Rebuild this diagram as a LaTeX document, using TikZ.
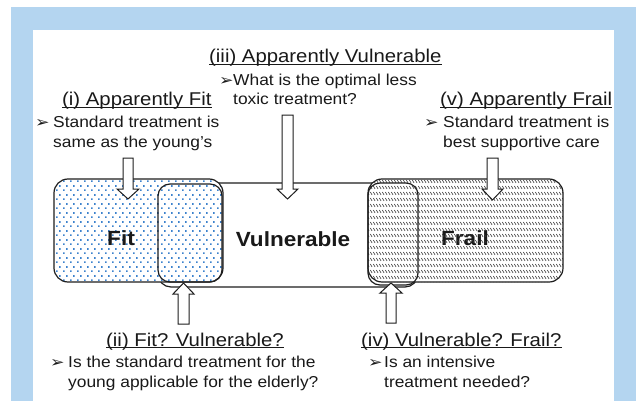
\documentclass[tikz,border=0pt]{standalone}
\usepackage{fontspec}
\setmainfont{Liberation Sans}[FakeStretch=1.1]
\newfontfamily\symfont{DejaVu Sans}[FakeStretch=1.15]
\usetikzlibrary{patterns}
\definecolor{frameblue}{RGB}{180,213,240}
\definecolor{dotblue}{RGB}{60,130,205}
\definecolor{hatchgray}{RGB}{55,55,55}
\definecolor{linegray}{RGB}{30,30,30}
\definecolor{textgray}{RGB}{25,25,25}

\pgfdeclarepatternformonly{bluedots}{\pgfqpoint{0pt}{0pt}}{\pgfqpoint{7pt}{8.6pt}}{\pgfqpoint{7pt}{8.6pt}}{%
  \pgfpathrectangle{\pgfqpoint{0pt}{0pt}}{\pgfqpoint{1.8pt}{1.8pt}}%
  \pgfpathrectangle{\pgfqpoint{3.5pt}{4.3pt}}{\pgfqpoint{1.8pt}{1.8pt}}%
  \pgfusepath{fill}}

\pgfdeclarepatternformonly{hatchrows}{\pgfqpoint{0pt}{0pt}}{\pgfqpoint{3.4pt}{5.5pt}}{\pgfqpoint{3.4pt}{5.5pt}}{%
  \pgfsetlinewidth{0.7pt}%
  \pgfpathmoveto{\pgfqpoint{0.4pt}{4.3pt}}%
  \pgfpathlineto{\pgfqpoint{2.4pt}{1.2pt}}%
  \pgfusepath{stroke}}

\begin{document}
\begin{tikzpicture}[x=1pt,y=-1pt,
  box/.style={draw=linegray, line width=1.2pt},
  blockarrow/.style={draw=linegray, fill=white, line width=1pt, line join=miter},
  title/.style={anchor=base west, inner sep=0pt, text=textgray, font=\fontsize{18.5}{20}\selectfont},
  body/.style={anchor=base west, inner sep=0pt, text=textgray, font=\fontsize{15.8}{20}\selectfont},
  bulletmark/.style={anchor=base west, inner sep=0pt, text=textgray, font=\symfont\fontsize{15}{17}\selectfont},
  biglabel/.style={anchor=base, inner sep=0pt, text=textgray, font=\bfseries\fontsize{20.5}{22}\selectfont},
  ul/.style={draw=textgray, line width=1pt}
]
\useasboundingbox (0,0) rectangle (636,401);
% frame
\fill[white] (0,0) rectangle (636,401);
\fill[frameblue] (11,7) rectangle (636,401);
\fill[white] (33,30) rectangle (614,401);

% Vulnerable box
\draw[box, fill=white, rounded corners=13pt] (158,183) rectangle (418,287);
\node[biglabel] (vul) at (293,246) {Vulnerable};

% Fit box
\fill[white, rounded corners=14pt] (54,179) rectangle (223,282);
\fill[pattern=bluedots, pattern color=dotblue, rounded corners=14pt] (54,179) rectangle (223,282);
\draw[box, rounded corners=14pt] (54,179) rectangle (223,282);
\draw[box, rounded corners=12pt] (158,184) rectangle (222,282);
\node[biglabel] (fit) at (121,245) {Fit};

% Frail box
\fill[white, rounded corners=14pt] (368,179) rectangle (563,282);
\node[biglabel] (frail) at (465,245) {Frail};
\fill[pattern=hatchrows, pattern color=hatchgray, rounded corners=14pt] (368,179) rectangle (563,282);
\draw[box, rounded corners=14pt] (368,179) rectangle (563,282);
\draw[box, rounded corners=12pt] (368,183) rectangle (418,285);

% block arrows
\draw[blockarrow] (123,158) -- (133,158) -- (133,189) -- (139,189) -- (128,199) -- (117,189) -- (123,189) -- cycle;
\draw[blockarrow] (282,115) -- (293,115) -- (293,189) -- (298,189) -- (287.5,199) -- (277,189) -- (282,189) -- cycle;
\draw[blockarrow] (487,158) -- (498,158) -- (498,189) -- (503,189) -- (492.5,200) -- (482,189) -- (487,189) -- cycle;
\draw[blockarrow] (178,324) -- (189,324) -- (189,294) -- (194,294) -- (183.5,283) -- (173,294) -- (178,294) -- cycle;
\draw[blockarrow] (386,323) -- (396,323) -- (396,293) -- (402,293) -- (391,283) -- (380,293) -- (386,293) -- cycle;

% (iii)
\node[title] (t3) at (209,63) {(iii) Apparently Vulnerable};
\draw[ul] ([yshift=-1.8pt]t3.base west) -- ([yshift=-1.8pt]t3.base east);
\node[bulletmark] (b3) at (219,85) {➢};
\node[body] (t3a) at (233,85) {What is the optimal less};
\node[body] (t3b) at (233,105) {toxic treatment?};

% (i)
\node[title] (t1) at (62,106) {(i) Apparently Fit};
\draw[ul] ([yshift=-1.8pt]t1.base west) -- ([yshift=-1.8pt]t1.base east);
\node[bulletmark] (b1) at (35,127) {➢};
\node[body] (t1a) at (53,127) {Standard treatment is};
\node[body] (t1b) at (53,147) {same as the young’s};

% (v)
\node[title] (t5) at (440,106) {(v) Apparently Frail};
\draw[ul] ([yshift=-1.8pt]t5.base west) -- ([yshift=-1.8pt]t5.base east);
\node[bulletmark] (b5) at (424,127) {➢};
\node[body] (t5a) at (443,127) {Standard treatment is};
\node[body] (t5b) at (443,147) {best supportive care};

% (ii)
\node[title] (t2) at (106,346) {(ii) Fit? Vulnerable?};
\draw[ul] ([yshift=-1.8pt]t2.base west) -- ([yshift=-1.8pt]t2.base east);
\node[bulletmark] (b2) at (50,367) {➢};
\node[body] (t2a) at (68,367) {Is the standard treatment for the};
\node[body] (t2b) at (68,387) {young applicable for the elderly?};

% (iv)
\node[title] (t4) at (361,346) {(iv) Vulnerable? Frail?};
\draw[ul] ([yshift=-1.8pt]t4.base west) -- ([yshift=-1.8pt]t4.base east);
\node[bulletmark] (b4) at (368,367) {➢};
\node[body] (t4a) at (384,367) {Is an intensive};
\node[body] (t4b) at (384,387) {treatment needed?};
\end{tikzpicture}
\end{document}
